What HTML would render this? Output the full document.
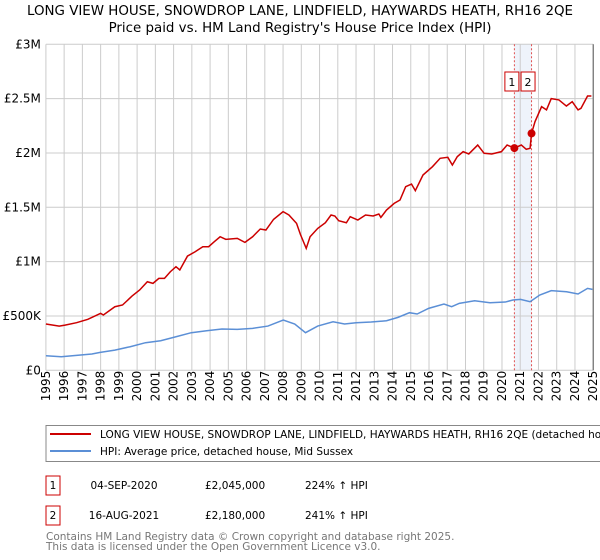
<!DOCTYPE html>
<html><head><meta charset="utf-8"><style>
body{margin:0;background:#fff;font-family:"DejaVu Sans","Liberation Sans",sans-serif}
svg{display:block}
</style></head><body>
<svg id="c" width="600" height="560" xmlns="http://www.w3.org/2000/svg" font-family="DejaVu Sans, Liberation Sans, sans-serif">
<text x="300" y="15" text-anchor="middle" font-size="13.4">LONG VIEW HOUSE, SNOWDROP LANE, LINDFIELD, HAYWARDS HEATH, RH16 2QE</text>
<text x="300" y="32" text-anchor="middle" font-size="13.4">Price paid vs. HM Land Registry's House Price Index (HPI)</text>
<g id="grid"></g><g id="marks"></g><g id="axes"></g>
<rect x="46" y="425.5" width="560" height="36" fill="#fff" stroke="#888"/>
<line x1="50" y1="434" x2="91" y2="434" stroke="#cc0000" stroke-width="2"/>
<text x="100" y="438" font-size="10.5">LONG VIEW HOUSE, SNOWDROP LANE, LINDFIELD, HAYWARDS HEATH, RH16 2QE (detached house)</text>
<line x1="50" y1="451" x2="91" y2="451" stroke="#5b8fd6" stroke-width="2"/>
<text x="100" y="455" font-size="10.5">HPI: Average price, detached house, Mid Sussex</text>
<g font-size="10.5">
<rect x="46" y="476" width="14" height="19" fill="none" stroke="#cc0000"/>
<text x="53" y="489" text-anchor="middle">1</text>
<text x="124" y="489" text-anchor="middle">04-SEP-2020</text>
<text x="205" y="489">£2,045,000</text>
<text x="305" y="489">224% ↑ HPI</text>
<rect x="46" y="506" width="14" height="19" fill="none" stroke="#cc0000"/>
<text x="53" y="519" text-anchor="middle">2</text>
<text x="124" y="519" text-anchor="middle">16-AUG-2021</text>
<text x="205" y="519">£2,180,000</text>
<text x="305" y="519">241% ↑ HPI</text>
</g>
<text x="46" y="540" font-size="10.5" fill="#777">Contains HM Land Registry data © Crown copyright and database right 2025.</text>
<text x="46" y="550" font-size="10.5" fill="#777">This data is licensed under the Open Government Licence v3.0.</text>
</svg>
<script>
const yTicks=[0,500000,1000000,1500000,2000000,2500000,3000000];
const yTickLabels=["£0","£500K","£1M","£1.5M","£2M","£2.5M","£3M"];
const years=[1995,1996,1997,1998,1999,2000,2001,2002,2003,2004,2005,2006,2007,2008,2009,2010,2011,2012,2013,2014,2015,2016,2017,2018,2019,2020,2021,2022,2023,2024,2025];
const redYears=[1995.0,1995.73,1996.05,1996.68,1997.3,1998.0,1998.15,1998.78,1999.2,1999.72,2000.14,2000.56,2000.87,2001.19,2001.5,2001.82,2002.13,2002.34,2002.76,2003.18,2003.6,2003.92,2004.23,2004.55,2004.86,2005.49,2005.91,2006.33,2006.75,2007.06,2007.48,2008.0,2008.32,2008.74,2008.95,2009.27,2009.48,2009.9,2010.32,2010.63,2010.84,2011.05,2011.47,2011.68,2012.1,2012.52,2012.94,2013.25,2013.36,2013.67,2014.09,2014.41,2014.72,2015.04,2015.25,2015.67,2016.19,2016.61,2017.03,2017.28,2017.55,2017.87,2018.18,2018.67,2019.02,2019.44,2019.97,2020.28,2020.68,2021.06,2021.33,2021.54,2021.62,2021.81,2022.17,2022.44,2022.7,2023.12,2023.53,2023.85,2024.17,2024.33,2024.69,2024.9];
const redValues=[426,407,416,438,469,524,509,585,601,683,739,815,800,846,846,907,953,923,1051,1091,1137,1137,1183,1229,1205,1214,1177,1229,1300,1291,1389,1460,1429,1352,1251,1122,1229,1306,1358,1429,1420,1377,1358,1414,1383,1429,1420,1438,1407,1475,1536,1567,1690,1714,1653,1797,1874,1951,1960,1889,1966,2012,1991,2073,1997,1991,2012,2073,2045,2073,2034,2043,2180,2288,2426,2396,2500,2488,2432,2472,2396,2411,2524,2524];
const hpiYears=[1995.0,1995.84,1996.68,1997.52,1997.98,1998.78,1999.62,2000.46,2001.29,2002.13,2002.97,2003.81,2004.65,2005.49,2006.33,2007.17,2008.01,2008.64,2009.23,2009.9,2010.74,2011.37,2012.0,2012.83,2013.67,2014.3,2014.93,2015.35,2015.98,2016.82,2017.24,2017.66,2018.5,2019.34,2020.18,2020.6,2021.02,2021.54,2022.07,2022.7,2023.54,2024.17,2024.69,2024.96];
const hpiValues=[134,125,137,150,165,186,217,254,272,309,346,364,380,377,386,407,462,426,346,407,447,426,438,444,456,487,530,518,570,610,585,616,640,622,628,647,653,631,693,733,723,702,754,745];
const saleYears=[2020.68,2021.62];
const salePrices=[2045000,2180000];
const saleLabels=["1","2"];
const NS="http://www.w3.org/2000/svg";
const X0=45.9,X1=593.2,Y0=370.3,Y1=44.3;
const xs=y=>X0+(y-1995)/30*(X1-X0);
const ys=v=>Y0-v/3000000*(Y0-Y1);
function mk(t,a,p){const e=document.createElementNS(NS,t);for(const k in a)e.setAttribute(k,a[k]);p.appendChild(e);return e;}
const grid=document.getElementById('grid'),marks=document.getElementById('marks'),axes=document.getElementById('axes');
const band=mk('rect',{x:xs(saleYears[0]),y:Y1,width:xs(saleYears[1])-xs(saleYears[0]),height:Y0-Y1,fill:'#eef3fb'},grid);


years.forEach(yr=>{const l=mk('line',{x1:xs(yr),x2:xs(yr),y1:Y1,y2:Y0,stroke:'#cccccc'},grid);


const t=mk('text',{transform:`translate(${xs(yr)+4},${Y0+31}) rotate(-90)`,'font-size':'12'},axes);t.textContent=yr;

});
yTicks.forEach((v,i)=>{const l=mk('line',{x1:X0,x2:X1,y1:ys(v),y2:ys(v),stroke:'#cccccc'},grid);


const t=mk('text',{x:X0-5,y:ys(v)+4,'text-anchor':'end','font-size':'12'},axes);t.textContent=yTickLabels[i];

});
const rb=mk('line',{x1:X1,x2:X1,y1:Y1,y2:Y0,stroke:'#555'},grid);


saleYears.forEach((yr,i)=>{const l=mk('line',{x1:xs(yr),x2:xs(yr),y1:Y1,y2:Y0,stroke:'#e05050','stroke-dasharray':'2,2'},marks);

});
const hp=mk('polyline',{points:hpiYears.map((y,i)=>xs(y)+','+ys(hpiValues[i]*1000)).join(' '),fill:'none',stroke:'#5b8fd6','stroke-width':1.5},marks);


const rp=mk('polyline',{points:redYears.map((y,i)=>xs(y)+','+ys(redValues[i]*1000)).join(' '),fill:'none',stroke:'#cc0000','stroke-width':1.5},marks);


saleYears.forEach((yr,i)=>{const c=mk('circle',{cx:xs(yr),cy:ys(salePrices[i]),r:4,fill:'#cc0000'},marks);


const bx=xs(yr)+(i===0?-9:-10);
const r=mk('rect',{x:bx-0.5,y:72,width:14,height:19,fill:'#fff',stroke:'#cc0000'},marks);


const t=mk('text',{x:bx+6.5,y:86,'text-anchor':'middle','font-size':'11'},marks);t.textContent=saleLabels[i];

});
</script>
</body></html>
